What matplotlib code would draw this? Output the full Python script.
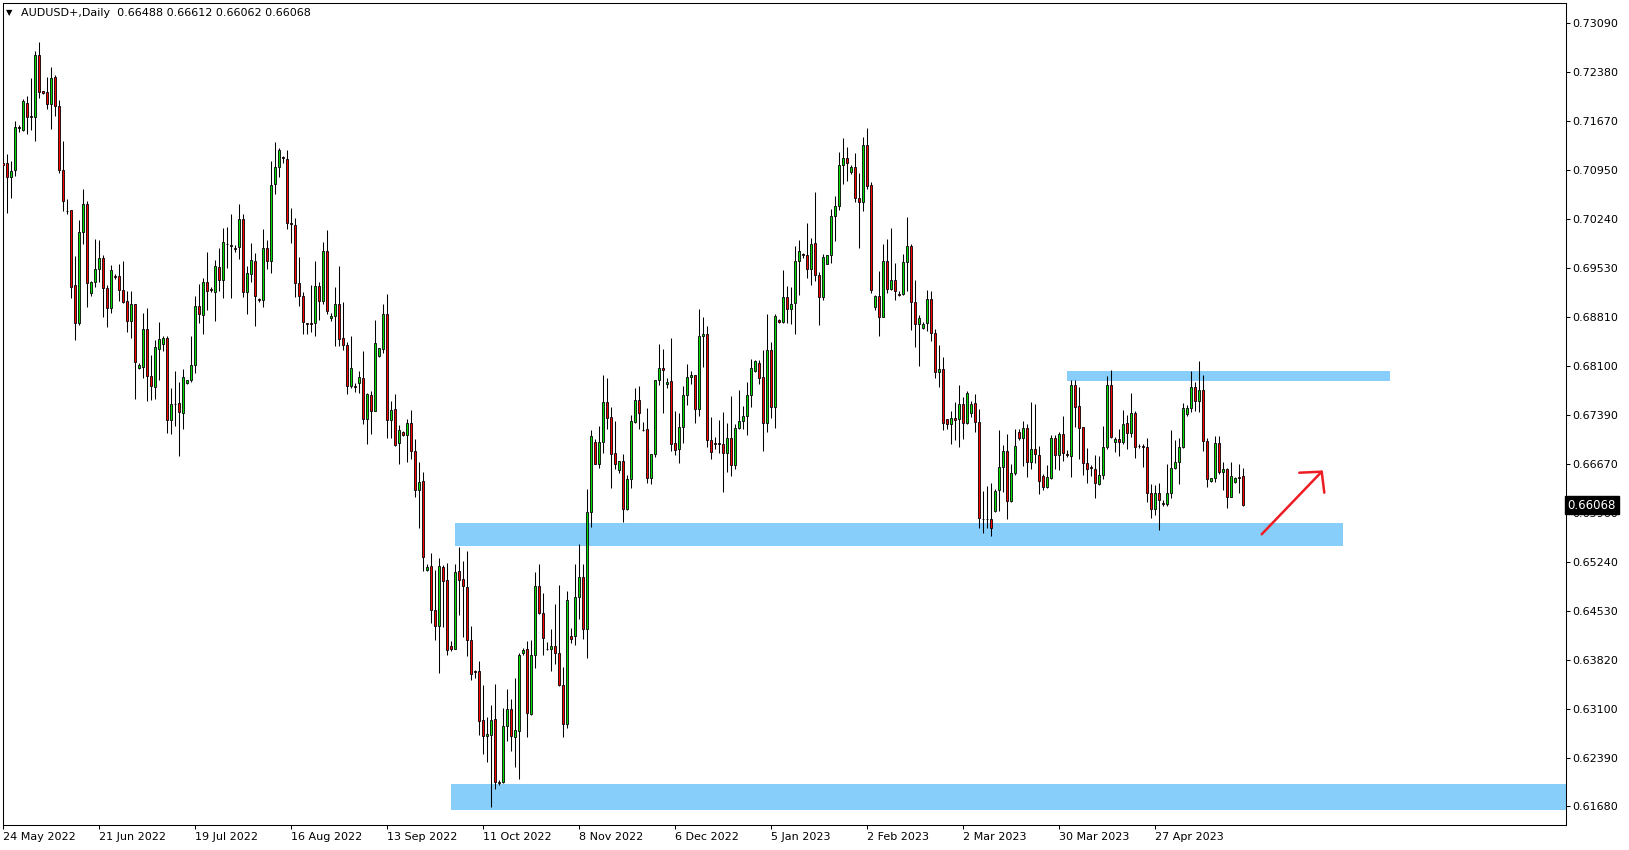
import matplotlib
matplotlib.use("Agg")
import matplotlib.pyplot as plt
import matplotlib.transforms as mtransforms
from matplotlib.patches import Rectangle
import numpy as np

# AUDUSD+ daily candles, prices in points (1 point = 0.00001)
opens = [
    71050, 71050, 70856, 70948, 71575, 71536, 71929, 71735, 71730, 72629,
    72099, 72090, 71920, 72303, 71881, 70948, 70360, 70365, 69273, 68729,
    70045, 70453, 69156, 69316, 69506, 69666, 69229, 68947, 69404, 69404,
    69209, 69039, 68758, 68996, 68073, 68088, 68632, 67956, 67796, 68350,
    68413, 68500, 67306, 67548, 67553, 67408, 67845, 67893, 68112, 68967,
    68836, 69316, 69219, 69171, 69535, 69345, 69880, 69860, 69817, 69826,
    70234, 69171, 69433, 69622, 69074, 69059, 69812, 69622, 70744, 70992,
    71138, 71118, 70181, 70147, 69302, 69112, 68719, 68724, 68719, 69258,
    69040, 69768, 68792, 68821, 69001, 68505, 68398, 67811, 67801, 67845,
    67918, 67330, 67675, 67446, 68243, 68340, 68855, 67315, 67466, 66971,
    67141, 67088, 67262, 66855, 66286, 66417, 65130, 65179, 64538, 64305,
    65164, 64975, 64013, 63979, 65106, 64989, 64873, 64101, 63649, 63649,
    62935, 62702, 62726, 62950, 62036, 62032, 62848, 63095, 62687, 62775,
    63921, 63969, 63022, 63882, 64887, 64504, 63979, 63969, 64023, 63921,
    63455, 62886, 64164, 64169, 64727, 65019, 64261, 65966, 66986, 66675,
    66986, 67568, 67355, 66825, 66578, 66709, 66019, 66446, 67277, 67598,
    67170, 67175, 66471, 66811, 67894, 68064, 67830, 67874, 66971, 66883,
    67209, 67670, 67932, 67962, 67466, 68530, 68559, 67024, 66971, 66971,
    66956, 66835, 67044, 66660, 67194, 67291, 67364, 67670, 68020, 68141,
    67932, 67262, 68326, 67495, 68763, 68734, 69098, 68933, 69011, 69623,
    69725, 69710, 69516, 69885, 69419, 69098, 69589, 69710, 70278, 70424,
    71021, 71123, 70929, 70992, 70541, 70492, 71318, 70730, 68962, 69113,
    68816, 69627, 69224, 69346, 69147, 69142, 69608, 69841, 69025, 68714,
    68646, 68719, 69069, 68573, 68015, 68049, 67320, 67247, 67335, 67320,
    67539, 67262, 67408, 67553, 67276, 65873, 65873, 65868, 65980, 66286,
    66621, 66859, 66135, 66533, 67131, 67053, 67189, 66704, 66888, 66796,
    66495, 66340, 66471, 67049, 66806, 67107, 66811, 66791, 67821, 67510,
    67204, 66689, 66621, 66592, 66374, 66505, 66913, 67821, 66986, 67034,
    66995, 67267, 67126, 67408, 66937, 66927, 66913, 66252, 66019, 66252,
    66097, 66092, 66252, 66607, 66694, 66913, 67403, 67481, 67787, 67583,
    67743, 67000, 66417, 66461, 66971, 66548, 66592, 66194, 66403, 66480,
    66488,
]
highs = [
    71133, 71186, 71084, 71667, 71609, 71988, 72031, 72294, 72692, 72818,
    72104, 72308, 72454, 72337, 71973, 71376, 70526, 70370, 69695, 70225,
    70676, 70501, 69341, 69948, 69933, 69715, 69277, 69569, 69433, 69579,
    69627, 69190, 69190, 69001, 68136, 68874, 68942, 68258, 68476, 68738,
    68534, 68534, 67782, 68024, 67864, 68054, 67893, 68534, 69117, 69292,
    69375, 69758, 69248, 69642, 69817, 70108, 70123, 70312, 69855, 70458,
    70312, 69559, 69889, 69739, 69093, 70093, 69933, 71084, 71361, 71274,
    71162, 71245, 70395, 70254, 69686, 69180, 68729, 69277, 69627, 69326,
    69904, 70079, 68874, 69248, 69554, 69030, 68447, 68534, 67845, 68024,
    68316, 67699, 67738, 68768, 68364, 69001, 69151, 67587, 67690, 67233,
    67156, 67321, 67457, 67034, 66694, 66549, 65208, 65368, 65125, 65295,
    65198, 65227, 64091, 65213, 65461, 65252, 65397, 64305, 63673, 63799,
    63450, 62984, 63154, 63464, 62066, 63115, 63392, 63246, 63552, 63921,
    63989, 64091, 64105, 65101, 65218, 64790, 64071, 64266, 64630, 64907,
    63717, 64819, 64285, 65213, 65504, 65208, 66306, 67165, 67034, 67224,
    67972, 67923, 67496, 67301, 66714, 66820, 66505, 67384, 67772, 67806,
    67277, 67486, 66811, 67894, 68418, 68345, 67918, 68506, 67437, 67408,
    67801, 68122, 68030, 67971, 68928, 68807, 68680, 67359, 67063, 67311,
    67432, 67267, 67656, 67252, 67748, 67515, 67860, 68195, 68185, 68185,
    68326, 68855, 68447, 68855, 68778, 69496, 69263, 69249, 69846, 69929,
    69749, 70181, 69958, 70633, 69462, 69725, 69715, 70385, 70570, 71211,
    71415, 71289, 71021, 71196, 70905, 71429, 71565, 70774, 69137, 69482,
    69875, 69948, 70113, 69598, 69190, 69729, 70268, 69880, 69350, 68840,
    68738, 69205, 69190, 68636, 68403, 68223, 67325, 67442, 67573, 67820,
    67641, 67728, 67592, 67689, 67466, 66276, 66349, 66388, 66305, 67165,
    66946, 67106, 66669, 67174, 67184, 67296, 67252, 67573, 67544, 66927,
    66524, 66650, 67088, 67092, 67131, 67369, 66874, 67889, 67889, 67792,
    67209, 66903, 66660, 66796, 66786, 67224, 67952, 68035, 67058, 67180,
    67452, 67389, 67700, 67437, 66961, 66961, 67049, 66374, 66369, 66398,
    66150, 66665, 67165, 67020, 67044, 67559, 67530, 68025, 67865, 68171,
    67967, 67044, 66471, 67078, 67083, 66704, 66607, 66694, 66485, 66670,
    66612,
]
lows = [
    70555, 70331, 70550, 70870, 71502, 71526, 71478, 71536, 71380, 72007,
    72056, 71847, 71555, 71740, 70914, 70356, 70307, 69093, 68481, 68695,
    69870, 68962, 69122, 69253, 69316, 68806, 68670, 68874, 69360, 69049,
    69020, 68597, 68510, 67621, 68049, 67918, 67592, 67602, 67621, 67893,
    68321, 67126, 67102, 67228, 66791, 67174, 67840, 67869, 68000, 68719,
    68568, 68918, 69171, 68758, 69195, 69093, 69530, 69093, 69763, 69661,
    69107, 68850, 69326, 68685, 69035, 68962, 69515, 69447, 70608, 70846,
    71050, 70098, 69894, 69107, 68976, 68568, 68568, 68593, 68539, 68772,
    69001, 68855, 68758, 68394, 68389, 68330, 67694, 67772, 67723, 67699,
    67252, 66966, 67111, 67442, 68224, 68292, 67043, 67043, 66937, 66675,
    67078, 66704, 66748, 66194, 65733, 65106, 65116, 64358, 64110, 63620,
    64300, 63892, 63950, 63970, 64470, 64144, 63877, 63528, 63557, 62721,
    62449, 62333, 61677, 61930, 61993, 62027, 62634, 62493, 62260, 62085,
    63882, 62697, 63017, 63702, 64479, 63882, 63955, 63654, 63751, 63440,
    62697, 62828, 64062, 64037, 64416, 64125, 63848, 65757, 66665, 66617,
    66835, 67185, 66325, 66592, 66544, 65830, 66000, 66325, 67272, 67180,
    67151, 66398, 66383, 66777, 67816, 67408, 67772, 66854, 66806, 66679,
    66976, 67529, 67830, 67272, 67374, 68088, 66922, 66738, 66883, 66830,
    66267, 66548, 66500, 66592, 67184, 67175, 67087, 67505, 68010, 67830,
    66864, 67141, 67335, 67199, 68729, 68729, 68719, 68714, 68559, 69137,
    69666, 69385, 69283, 69341, 68700, 69054, 69584, 69603, 69924, 70366,
    70754, 70793, 70900, 70492, 69822, 70356, 70672, 69166, 68918, 68540,
    68807, 69166, 69205, 69064, 69122, 69137, 69195, 68627, 68379, 68102,
    68641, 68612, 68457, 67927, 67796, 67170, 67184, 66966, 67024, 66922,
    67038, 67257, 67359, 67140, 65742, 65659, 65742, 65625, 65975, 65980,
    66266, 65873, 66116, 66509, 67024, 66645, 66485, 66592, 66680, 66238,
    66296, 66325, 66456, 66597, 66587, 66709, 66767, 66485, 67214, 66748,
    66510, 66388, 66495, 66179, 66364, 66456, 66884, 67049, 66845, 66791,
    66961, 66884, 67058, 66762, 66903, 66631, 66116, 65888, 65932, 65708,
    66063, 66053, 66174, 66592, 66383, 66898, 67374, 67432, 67437, 67423,
    66864, 66340, 66412, 66408, 66519, 66291, 66034, 66184, 66398, 66252,
    66062,
]
closes = [
    71026, 70856, 70934, 71575, 71570, 71958, 71730, 71730, 72629, 72085,
    72075, 71920, 72289, 71890, 70958, 70506, 70356, 69253, 68729, 70045,
    70453, 69302, 69316, 69506, 69666, 69229, 68947, 69491, 69394, 69209,
    69035, 68758, 68996, 68160, 68112, 68632, 67956, 67811, 68369, 68486,
    68500, 67306, 67544, 67539, 67432, 67932, 67888, 68112, 68967, 68850,
    69316, 69185, 69210, 69549, 69345, 69899, 69870, 69851, 69807, 70234,
    69171, 69447, 69637, 69112, 69064, 69812, 69627, 70730, 70992, 71240,
    71128, 70176, 70171, 69312, 69112, 68743, 68714, 68714, 69258, 69049,
    69768, 68904, 68826, 69001, 68496, 68398, 67811, 68063, 67791, 67932,
    67330, 67684, 67446, 68428, 68355, 68855, 67315, 67461, 66952, 67170,
    67097, 67262, 66855, 66286, 66403, 65310, 65164, 64538, 64305, 65179,
    64970, 63955, 63979, 65091, 64985, 64887, 64101, 63615, 63639, 62930,
    62702, 62731, 62935, 62041, 62027, 62848, 63095, 62702, 62789, 63882,
    63955, 63037, 63882, 64887, 64504, 64139, 63969, 64023, 63921, 63455,
    62886, 64683, 64125, 64727, 65019, 64261, 65966, 67073, 66675, 66986,
    67568, 67345, 66820, 66675, 66709, 66019, 66446, 67296, 67598, 67408,
    67160, 66471, 66811, 67889, 68064, 68034, 67869, 66966, 66869, 67209,
    67670, 67932, 67962, 67466, 68530, 68559, 67024, 66849, 66961, 66961,
    66835, 67044, 66660, 67194, 67291, 67364, 67670, 68064, 68166, 67918,
    67262, 68326, 67495, 68821, 68734, 69098, 68933, 68996, 69623, 69768,
    69715, 69516, 69870, 69419, 69098, 69681, 69710, 70278, 70424, 71021,
    71123, 71060, 70992, 70541, 70492, 71318, 70715, 69210, 69113, 68816,
    69627, 69224, 69346, 69186, 69137, 69608, 69841, 69025, 68714, 68797,
    68704, 69069, 68573, 68015, 68049, 67262, 67247, 67335, 67306, 67539,
    67262, 67699, 67539, 67276, 65878, 65863, 65863, 65742, 66276, 66621,
    66859, 66135, 66533, 66932, 67053, 67189, 66703, 66888, 66811, 66427,
    66340, 66476, 67049, 66806, 67107, 66835, 66801, 67821, 67505, 67199,
    66689, 66592, 66612, 66388, 66505, 66913, 67821, 67058, 67029, 66995,
    67248, 67126, 67408, 66913, 66927, 66918, 66252, 66019, 66252, 66145,
    66087, 66252, 66607, 66694, 66913, 67481, 67481, 67787, 67583, 67743,
    67000, 66446, 66461, 66971, 66548, 66592, 66194, 66490, 66461, 66471,
    66068,
]

date_bars = [0, 24, 48, 72, 96, 120, 144, 168, 192, 216, 240, 264, 288]
date_labels = ["24 May 2022", "21 Jun 2022", "19 Jul 2022", "16 Aug 2022",
               "13 Sep 2022", "11 Oct 2022", "8 Nov 2022", "6 Dec 2022",
               "5 Jan 2023", "2 Feb 2023", "2 Mar 2023", "30 Mar 2023",
               "27 Apr 2023"]
price_ticks = [0.73090, 0.72380, 0.71670, 0.70950, 0.70240, 0.69530, 0.68810,
               0.68100, 0.67390, 0.66670, 0.65960, 0.65240, 0.64530, 0.63820,
               0.63100, 0.62390, 0.61680]

# support / resistance zones drawn on the chart (bar index from-to, price low-high)
zone_start = [266.0, 112.9, 111.9]
zone_end = [346.7, 334.9, 392.0]
zone_low = [0.67879, 0.65480, 0.61633]
zone_high = [0.68025, 0.65810, 0.62008]

# hand drawn arrow
arrow_x = [314.6, 329.6]
arrow_y = [0.65646, 0.66558]
head_x = [324.0, 329.6, 330.25]
head_y = [0.66543, 0.66558, 0.66252]

o = np.array(opens) / 1e5
h = np.array(highs) / 1e5
l = np.array(lows) / 1e5
c = np.array(closes) / 1e5
x = np.arange(len(o))
up = c >= o

W, H = 1629, 850
fig = plt.figure(figsize=(W / 100, H / 100), dpi=100)
ax_l, ax_r, ax_t, ax_b = 2.7, 1565.5, 3.0, 825.0
ax = fig.add_axes([ax_l / W, 1 - ax_b / H, (ax_r - ax_l) / W, (ax_b - ax_t) / H])

for i in range(3):
    ax.add_patch(Rectangle((zone_start[i], zone_low[i]), zone_end[i] - zone_start[i],
                           zone_high[i] - zone_low[i], facecolor="#87cefa",
                           edgecolor="none", zorder=0.5))

ax.vlines(x, l, h, color="black", lw=0.75, zorder=2)
body = np.maximum(np.abs(c - o), 0.00001)
ax.bar(x[up], body[up], bottom=o[up], width=0.55, color="#00e000",
       edgecolor="black", lw=0.6, zorder=3)
ax.bar(x[~up], body[~up], bottom=c[~up], width=0.55, color="#ff0000",
       edgecolor="black", lw=0.6, zorder=3)

ax.plot(arrow_x, arrow_y, color="#ee1c24", lw=1.8, solid_capstyle="round", zorder=4)
ax.plot(head_x, head_y, color="#ee1c24", lw=1.8, solid_capstyle="round", zorder=4)

ax.set_xlim(-0.15, 390.55)
ax.set_ylim(0.61410, 0.73387)

ax.yaxis.tick_right()
ax.set_yticks(price_ticks)
ax.set_yticklabels(["%.5f" % p for p in price_ticks])
ax.set_xticks(date_bars)
ax.set_xticklabels(date_labels)
for t in ax.get_xticklabels():
    t.set_ha("left")
ax.tick_params(axis="both", labelsize=8, length=3, width=0.75, color="black", pad=2)
for s in ax.spines.values():
    s.set_linewidth(0.75)
    s.set_color("black")

trans = mtransforms.blended_transform_factory(ax.transAxes, ax.transData)
ax.text(1.0013, c[-1], "%.5f" % c[-1], transform=trans, color="white", fontsize=8.5,
        va="center", ha="left", zorder=10, clip_on=False,
        bbox=dict(boxstyle="square,pad=0.22", facecolor="black", edgecolor="black"))

fig.text(6 / W, 1 - 12.5 / H, "\u25bc", fontsize=6, va="center", ha="left")
fig.text(21 / W, 1 - 12.5 / H,
         "AUDUSD+,Daily  %.5f %.5f %.5f %.5f" % (o[-1], h[-1], l[-1], c[-1]),
         fontsize=8, va="center", ha="left")

fig.savefig("out.png", dpi=100)
